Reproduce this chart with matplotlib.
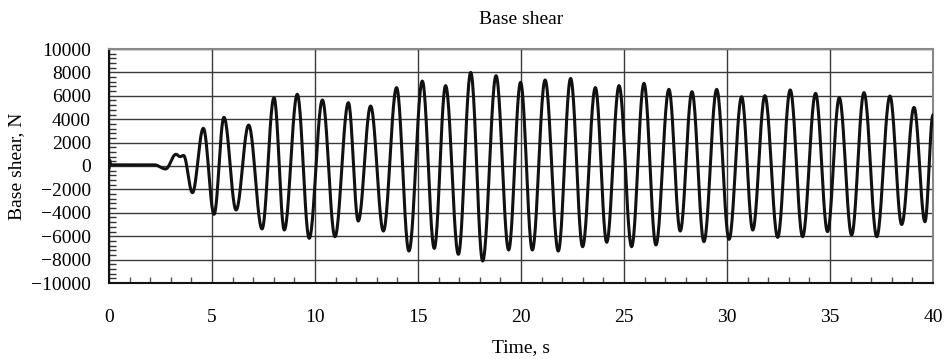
import numpy as np
import matplotlib
matplotlib.use("Agg")
import matplotlib.pyplot as plt
from matplotlib.ticker import MultipleLocator

# Turning points of the base-shear record (time s, shear N)
ext_time = [0.0, 0.03, 0.08, 2.2, 2.75, 3.25, 3.45, 3.62, 4.05, 4.58, 5.10, 5.58, 6.17, 6.78,
            7.43, 8.01, 8.51, 9.14, 9.72, 10.36, 10.97, 11.62, 12.10, 12.70, 13.32, 13.96,
            14.56, 15.21, 15.79, 16.34, 16.96, 17.56, 18.14, 18.79, 19.40, 19.98, 20.55,
            21.17, 21.81, 22.41, 22.99, 23.61, 24.16, 24.76, 25.37, 25.97, 26.55, 27.18,
            27.73, 28.30, 28.88, 29.50, 30.10, 30.71, 31.25, 31.84, 32.46, 33.07, 33.67,
            34.30, 34.88, 35.45, 36.05, 36.65, 37.27, 37.91, 38.48, 39.08, 39.61, 40.0]
ext_shear = [-200, 500, 100, 100, -250, 1000, 800, 900, -2280, 3220, -4130, 4160, -3760, 3500,
             -5380, 5840, -5470, 6130, -6180, 5640, -6040, 5410, -4700, 5130, -5560, 6700,
             -7270, 7260, -7040, 6870, -7550, 8000, -8120, 7720, -7180, 7150, -7180,
             7350, -7270, 7490, -6900, 6700, -6520, 6870, -6900, 7070, -6750, 6550,
             -5560, 6350, -6470, 6550, -6270, 5920, -5470, 6010, -6100, 6500, -6040,
             6210, -5610, 5840, -5900, 6270, -6040, 5980, -5000, 5010, -4760, 4360]

x_ticks = [0, 5, 10, 15, 20, 25, 30, 35, 40]
y_ticks = [-10000, -8000, -6000, -4000, -2000, 0, 2000, 4000, 6000, 8000, 10000]

# smooth half-wave path between consecutive turning points
ts, vs = [], []
for i in range(len(ext_time) - 1):
    s = np.linspace(0, 1, 25, endpoint=False)
    w = (1 - np.cos(np.pi * s)) / 2
    ts.append(ext_time[i] + (ext_time[i + 1] - ext_time[i]) * s)
    vs.append(ext_shear[i] + (ext_shear[i + 1] - ext_shear[i]) * w)
ts.append([ext_time[-1]])
vs.append([ext_shear[-1]])
t = np.concatenate(ts)
v = np.concatenate(vs)

plt.rcParams['font.family'] = ['Liberation Serif', 'DejaVu Serif']
fig = plt.figure(figsize=(9.44, 3.59), dpi=100)
ax = fig.add_axes([109 / 944, 1 - 283 / 359, (933 - 109) / 944, (283 - 49) / 359])

ax.plot(t, v, color='#111111', lw=2.2, zorder=3)

ax.set_xlim(0, 40)
ax.set_ylim(-10000, 10000)
ax.set_xticks(x_ticks)
ax.set_yticks(y_ticks)
ax.xaxis.set_minor_locator(MultipleLocator(1))
ax.yaxis.set_minor_locator(MultipleLocator(400))
ax.grid(True, which='major', color='#3a3a3a', lw=1.0, zorder=1)
ax.tick_params(axis='both', which='major', length=0, labelsize=14)
ax.tick_params(axis='x', which='major', pad=19)
ax.tick_params(axis='y', which='major', pad=13)
ax.tick_params(axis='x', which='minor', direction='in', length=4, width=1, color='#555555', top=False)
ax.tick_params(axis='y', which='minor', direction='in', length=5, width=1, color='#333333', right=False)

for side in ['top', 'right']:
    ax.spines[side].set_color('#888888')
    ax.spines[side].set_linewidth(1.5)
for side in ['left', 'bottom']:
    ax.spines[side].set_color('#111111')
    ax.spines[side].set_linewidth(1.5)

ax.set_title('Base shear', fontsize=14, pad=18)
ax.set_xlabel('Time, s', fontsize=14, labelpad=9)
ax.set_ylabel('Base shear, N', fontsize=14, labelpad=4)

fig.savefig('out.png', dpi=100)
